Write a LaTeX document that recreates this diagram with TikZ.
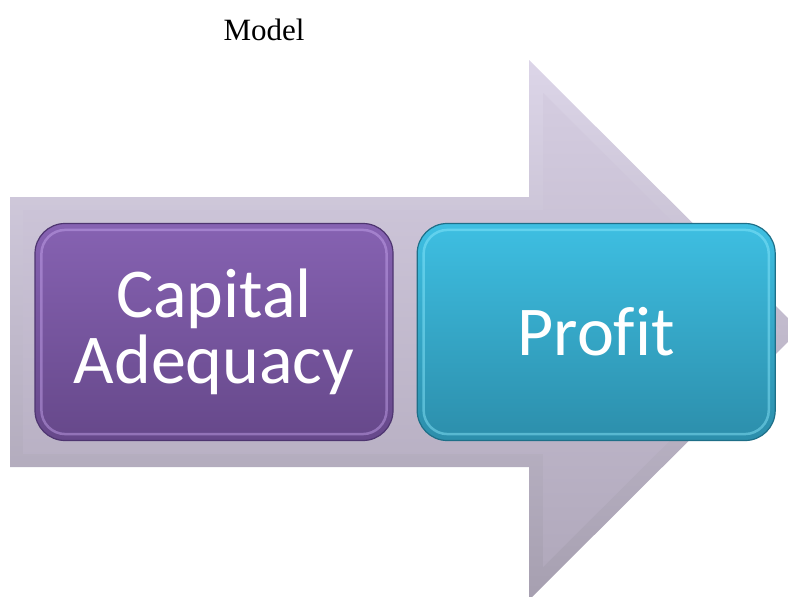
\documentclass[tikz,border=0pt]{standalone}
\usepackage{fontspec}
\setmainfont{Liberation Serif}
\newfontfamily\boxfont[Ligatures=NoCommon]{Carlito}
\usetikzlibrary{positioning}

\definecolor{arrowtop}{HTML}{DCD5E8}
\definecolor{arrowbot}{HTML}{A69FB0}
\definecolor{bevtop}{HTML}{D4CCE0}
\definecolor{bevbot}{HTML}{B1A9BC}
\definecolor{capitaltop}{HTML}{8662B2}
\definecolor{capitalbot}{HTML}{66488A}
\definecolor{capitalrim}{HTML}{4E3570}
\definecolor{capitallight}{HTML}{C9A8F0}
\definecolor{profittop}{HTML}{3EBFE2}
\definecolor{profitbot}{HTML}{2C8EAB}
\definecolor{profitrim}{HTML}{1E6F88}
\definecolor{profitlight}{HTML}{8EEBFF}

\tikzset{
	stage box/.style={
		rounded corners=30pt,
		minimum width=358pt, minimum height=217pt,
		align=center, text=white, line width=1.2pt,
		font=\boxfont\fontsize{70}{66}\selectfont
	},
	stage rim/.style={rounded corners=24pt, line width=2.5pt, opacity=0.45}
}

\begin{document}
\begin{tikzpicture}[x=1pt, y=-1pt]
	\useasboundingbox (0,0) rectangle (788,597);
	\clip (0,0) rectangle (788,597);
	% big arrow behind the stages
	\shade [top color=arrowtop, bottom color=arrowbot]
		(10,197) -- (529,197) -- (529,60) -- (800,330) -- (529,600) -- (529,467) -- (10,467) -- cycle;
	\shade [top color=bevtop, bottom color=bevbot]
		(23,210) -- (543,210) -- (543,93) -- (781,330) -- (543,567) -- (543,454) -- (23,454) -- cycle;
	\node (title) at (264,30) {\fontsize{31}{36}\selectfont Model};
	% stages
	\node [stage box, draw=capitalrim, top color=capitaltop, bottom color=capitalbot]
		(capital) at (214,332) {Capital\\Adequacy};
	\node [stage box, draw=profitrim, top color=profittop, bottom color=profitbot, right=23pt of capital]
		(profit) {Profit};
	\draw [stage rim, capitallight] ([shift={(7,7)}]capital.north west) rectangle ([shift={(-7,-7)}]capital.south east);
	\draw [stage rim, profitlight] ([shift={(7,7)}]profit.north west) rectangle ([shift={(-7,-7)}]profit.south east);
\end{tikzpicture}
\end{document}
